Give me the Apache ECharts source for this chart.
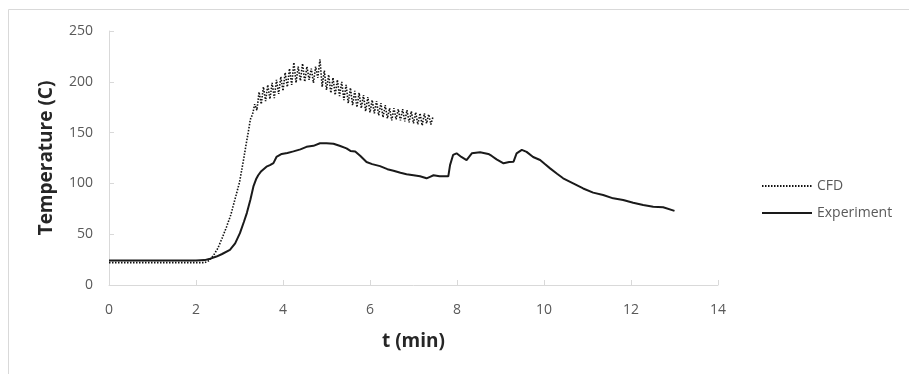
<!DOCTYPE html>
<html>
<head>
<meta charset="utf-8">
<script src="https://cdn.jsdelivr.net/npm/echarts@6/dist/echarts.min.js"></script>
<style>
html,body{margin:0;padding:0;background:#fff;}
#chart{width:909px;height:374px;}
</style>
</head>
<body>
<div id="chart"></div>
<script>
// ---- data (t in min, temperature in C) ----
const seriesNames = ['CFD', 'Experiment'];
const xTicks = [0, 2, 4, 6, 8, 10, 12, 14];
const yTicks = [0, 50, 100, 150, 200, 250];

const cfdData = [
  [0,22],[0.5,22],[1,22],[1.5,22],[2,22],[2.2,22],[2.3,24],[2.4,29],[2.5,36],[2.6,46],
  [2.7,57],[2.8,69],[2.9,85],[3.0,101],[3.1,125],[3.15,138],[3.2,150],[3.25,163],
  [3.30,168],[3.35,178],[3.40,172],[3.45,190],[3.50,178],[3.55,195],[3.60,181],[3.65,197],
  [3.70,183],[3.75,199],[3.80,184],[3.85,202],[3.90,188],[3.95,205],[4.00,191],[4.05,209],
  [4.10,195],[4.15,213],[4.20,197],[4.25,219],[4.30,199],[4.35,215],[4.40,201],[4.45,218],
  [4.50,200],[4.55,215],[4.60,202],[4.65,213],[4.70,199],[4.75,215],[4.80,204],[4.85,222],
  [4.90,195],[4.95,211],[5.00,192],[5.05,207],[5.10,189],[5.15,204],[5.20,187],[5.25,202],
  [5.30,186],[5.35,200],[5.40,182],[5.45,197],[5.50,179],[5.55,194],[5.60,177],[5.65,191],
  [5.70,175],[5.75,189],[5.80,174],[5.85,187],[5.90,171],[5.95,185],[6.00,170],[6.05,182],
  [6.10,169],[6.15,181],[6.20,167],[6.25,179],[6.30,165],[6.35,177],[6.40,164],[6.45,174],
  [6.50,162],[6.55,174],[6.60,163],[6.65,173],[6.70,162],[6.75,173],[6.80,161],[6.85,172],
  [6.90,160],[6.95,171],[7.00,159],[7.05,170],[7.10,158],[7.15,169],[7.20,157],[7.25,169],
  [7.30,159],[7.35,168],[7.40,158],[7.45,166]
];

const experimentData = [
  [0,24],[0.5,24],[1,24],[1.5,24],[2.0,24],[2.2,24.5],[2.3,25.5],[2.47,28],[2.6,30.5],
  [2.78,34.5],[2.9,41],[3.01,51],[3.1,62],[3.17,71],[3.25,84],[3.32,97],[3.38,104],
  [3.43,108],[3.5,112],[3.62,116.5],[3.7,118],[3.78,120],[3.85,126],[3.97,129],[4.1,130],
  [4.24,131.5],[4.4,133.5],[4.54,136],[4.7,137],[4.85,139.5],[5.0,139.5],[5.16,139],
  [5.3,137],[5.46,134.5],[5.55,132],[5.66,131.5],[5.78,127],[5.92,121],[6.05,119],
  [6.23,117],[6.4,114],[6.54,112.5],[6.7,110.5],[6.84,109],[7.0,108],[7.15,107],[7.3,105],
  [7.38,106.5],[7.46,108],[7.6,107],[7.8,107],[7.84,118],[7.91,128],[7.99,129.6],[8.1,126],
  [8.22,123],[8.34,129.6],[8.53,130.6],[8.72,129],[8.8,127],[8.91,123.7],[9.07,119.8],
  [9.2,121],[9.3,121.4],[9.37,129.6],[9.49,133],[9.6,131],[9.75,126],[9.91,123],[10.02,119],
  [10.14,114.8],[10.3,109.5],[10.44,105],[10.67,100],[10.9,95],[11.13,90.9],[11.36,88.6],
  [11.59,85.3],[11.82,83.7],[12.05,81],[12.28,78.7],[12.51,77],[12.74,76.5],[13.0,73]
];

const xName = 't (min)';
const yName = 'Temperature (C)';

// ---- chart ----
const chart = echarts.init(document.getElementById('chart'), null, {renderer: 'canvas'});
const tickFont = {color: '#595959', fontSize: 14, fontFamily: 'Open Sans'};
const axisGray = '#d9d9d9';

chart.setOption({
  animation: false,
  backgroundColor: '#fff',
  graphic: [{
    type: 'rect', z: -10, silent: true,
    shape: {x: 8.5, y: 9.5, width: 1000, height: 1000},
    style: {fill: 'none', stroke: '#d9d9d9', lineWidth: 1}
  }],
  grid: {left: 109, right: 191, top: 31, bottom: 89, containLabel: false},
  legend: {
    orient: 'vertical', left: 756, top: 174, itemWidth: 50, itemHeight: 14, itemGap: 13,
    data: seriesNames,
    itemStyle: {opacity: 0},
    textStyle: {color: '#595959', fontSize: 14, fontFamily: 'Open Sans'}
  },
  xAxis: {
    type: 'value', min: xTicks[0], max: xTicks[xTicks.length - 1], interval: 2,
    name: xName, nameLocation: 'middle', nameGap: 47,
    nameTextStyle: {color: '#262626', fontSize: 19, fontWeight: 'bold', fontFamily: 'Open Sans'},
    axisLine: {show: true, lineStyle: {color: axisGray, width: 1}},
    axisTick: {show: true, inside: true, length: 5, lineStyle: {color: axisGray}},
    axisLabel: Object.assign({margin: 18}, tickFont),
    splitLine: {show: false}
  },
  yAxis: {
    type: 'value', min: yTicks[0], max: yTicks[yTicks.length - 1], interval: 50,
    name: yName, nameLocation: 'middle', nameGap: 53,
    nameTextStyle: {color: '#262626', fontSize: 19, fontWeight: 'bold', fontFamily: 'Open Sans'},
    axisLine: {show: true, lineStyle: {color: axisGray, width: 1}},
    axisTick: {show: true, inside: true, length: 5, lineStyle: {color: axisGray}},
    axisLabel: Object.assign({margin: 16}, tickFont),
    splitLine: {show: false}
  },
  series: [
    {
      name: seriesNames[0], type: 'line', data: cfdData, showSymbol: false, symbol: 'none',
      lineStyle: {color: '#111', width: 1.6, type: [1.5, 1.5]}, itemStyle: {color: '#111'},
      z: 3
    },
    {
      name: seriesNames[1], type: 'line', data: experimentData, showSymbol: false, symbol: 'none',
      lineStyle: {color: '#1a1a1a', width: 2}, itemStyle: {color: '#1a1a1a'},
      z: 2
    }
  ]
});
</script>
</body>
</html>
